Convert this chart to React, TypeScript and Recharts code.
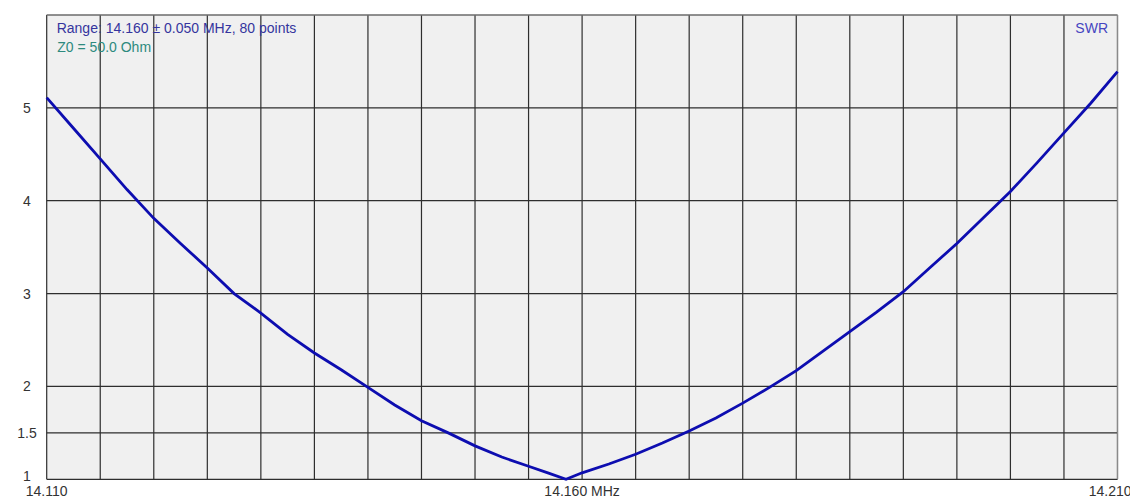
import React from "react";
import { LineChart, Line, XAxis, YAxis, CartesianGrid, ReferenceLine } from "recharts";

const freqs = [
  14.11, 14.1125, 14.115, 14.1175, 14.12, 14.1225, 14.125, 14.1275, 14.13, 14.1325,
  14.135, 14.1375, 14.14, 14.1425, 14.145, 14.1475, 14.15, 14.1525, 14.155, 14.1568,
  14.1585, 14.16, 14.1625, 14.165, 14.1675, 14.17, 14.1725, 14.175, 14.1775, 14.18,
  14.1825, 14.185, 14.1875, 14.19, 14.1925, 14.195, 14.1975, 14.2, 14.2025, 14.205,
  14.2075, 14.21,
];
const swr = [
  5.11, 4.78, 4.45, 4.12, 3.81, 3.54, 3.275, 3.0, 2.79, 2.56,
  2.36, 2.18, 1.99, 1.8, 1.63, 1.5, 1.36, 1.24, 1.14, 1.07,
  1.0, 1.07, 1.165, 1.27, 1.39, 1.52, 1.66, 1.82, 1.99, 2.17,
  2.38, 2.59, 2.8, 3.02, 3.28, 3.54, 3.82, 4.1, 4.41, 4.73,
  5.05, 5.39,
];
const xTicks = [
  14.11, 14.115, 14.12, 14.125, 14.13, 14.135, 14.14, 14.145, 14.15, 14.155,
  14.16, 14.165, 14.17, 14.175, 14.18, 14.185, 14.19, 14.195, 14.2, 14.205, 14.21,
];
const xLabels: Record<string, string> = { "14.11": "14.110", "14.16": "14.160 MHz", "14.21": "14.210" };
const yTicks = [1, 1.5, 2, 3, 4, 5, 6];
const yLabels: Record<string, string> = { "1": "1", "1.5": "1.5", "2": "2", "3": "3", "4": "4", "5": "5" };
const rangeText = "Range: 14.160 ± 0.050 MHz, 80 points";
const z0Text = "Z0 = 50.0 Ohm";
const seriesName = "SWR";

const data = freqs.map((f, i) => ({ f, swr: swr[i] }));

const FONT = "'Liberation Sans', Arial, sans-serif";

const XTick = (props: any) => {
  const { x, y, payload } = props;
  const key = String(Number(payload.value.toFixed(4)));
  const label = xLabels[key];
  if (!label) return null;
  let anchor: "middle" | "end" = "middle";
  let dx = 0;
  if (key === "14.21") {
    anchor = "end";
    dx = 14;
  }
  return (
    <text x={x + dx} y={y + 8.5} textAnchor={anchor} fontFamily={FONT} fontSize={14} fill="#333">
      {label}
    </text>
  );
};

const YTick = (props: any) => {
  const { x, y, payload } = props;
  const label = yLabels[String(payload.value)];
  if (!label) return null;
  const dy = payload.value === 1 ? 1.8 : 5;
  return (
    <text x={x - 11.7} y={y + dy} textAnchor="middle" fontFamily={FONT} fontSize={14} fill="#333">
      {label}
    </text>
  );
};

export default function App() {
  return (
    <div style={{ position: "relative", width: 1130, height: 496 }}>
      <LineChart width={1130} height={496} data={data} margin={{ top: 7, right: 20.5, bottom: 0, left: 0 }}>
        <CartesianGrid fill="#f0f0f0" stroke="#2e2e2e" strokeWidth={1.2} strokeOpacity={1} />
        <XAxis
          dataKey="f"
          type="number"
          domain={[14.11, 14.21]}
          ticks={xTicks}
          interval={0}
          axisLine={false}
          tickLine={false}
          height={24.7}
          tick={<XTick />}
        />
        <YAxis
          type="number"
          domain={[1, 6]}
          ticks={yTicks}
          interval={0}
          axisLine={false}
          tickLine={false}
          width={38.7}
          tick={<YTick />}
        />
        <ReferenceLine y={6} stroke="#8a8a8a" strokeWidth={1.2} />
        <ReferenceLine x={14.21} stroke="#8a8a8a" strokeWidth={1.2} />
        <Line
          type="linear"
          dataKey="swr"
          stroke="#0d0db0"
          strokeWidth={2.8}
          dot={false}
          isAnimationActive={false}
        />
      </LineChart>
      <svg
        width={1130}
        height={496}
        style={{ position: "absolute", left: 0, top: 0, pointerEvents: "none" }}
      >
        <text x={48.7} y={25.3} fontFamily={FONT} fontSize={14} fill="#35359e">
          {rangeText}
        </text>
        <text x={49.3} y={43.7} fontFamily={FONT} fontSize={14} fill="#2d8a7e">
          {z0Text}
        </text>
        <text x={1100} y={24.8} textAnchor="end" fontFamily={FONT} fontSize={14} fill="#4545c0">
          {seriesName}
        </text>
      </svg>
    </div>
  );
}
